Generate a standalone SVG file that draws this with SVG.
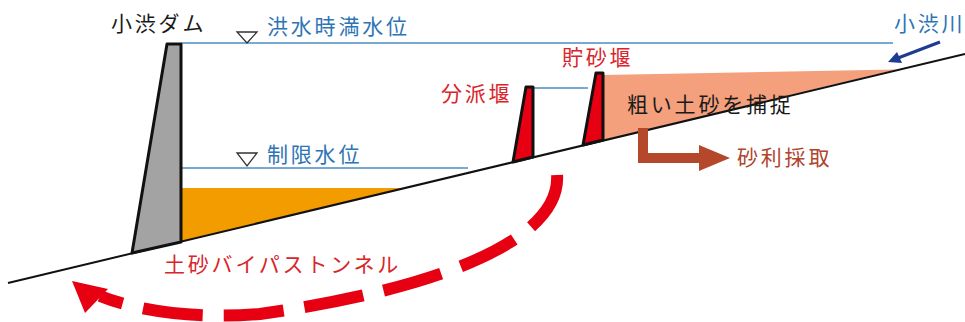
<svg xmlns="http://www.w3.org/2000/svg" width="965" height="322" viewBox="0 0 965 322">
  <defs>
    <style>
      .t { font-family: "Noto Sans CJK JP", "Noto Sans", sans-serif; font-size: 21px; letter-spacing: 2.8px; }
      .blk { fill: #1a1a1a; }
      .blu { fill: #2e74b5; }
      .red { fill: #d9252a; }
      .brn { fill: #b0442c; }
      .wl { stroke: #4a8cc4; stroke-width: 1.6; fill: none; }
      .mark { fill: #ffffff; stroke: #333333; stroke-width: 1.3; }
      .weir { fill: #e60012; stroke: #111111; stroke-width: 3; stroke-linejoin: round; }
    </style>
  </defs>
  <rect width="965" height="322" fill="#ffffff"/>

  <!-- sediment deposits -->
  <g id="reservoir-sediment">
    <polygon points="181,188 402,188 181,242" fill="#f39c00"/>
  </g>
  <g id="coarse-sediment">
    <polygon points="603,75 897,69.5 603,140" fill="#f4a07c"/>
  </g>

  <!-- water levels -->
  <g id="flood-level">
    <line class="wl" x1="181" y1="43" x2="893" y2="43"/>
    <polygon class="mark" points="237,32 257,32 247,43"/>
    <text class="t blu" x="267" y="34">洪水時満水位</text>
  </g>
  <g id="limit-level">
    <line class="wl" x1="181" y1="168" x2="468" y2="168"/>
    <polygon class="mark" points="237,153 257,153 247,166"/>
    <text class="t blu" x="267" y="162">制限水位</text>
  </g>
  <line class="wl" x1="533" y1="88" x2="588" y2="88"/>

  <!-- riverbed -->
  <line x1="8" y1="283" x2="965" y2="54" stroke="#111111" stroke-width="2"/>

  <!-- dam body -->
  <g id="dam">
    <polygon points="167,44 181,44 181,242 132,253" fill="#a3a3a3" stroke="#111111" stroke-width="3" stroke-linejoin="round"/>
    <text class="t blk" x="111" y="31">小渋ダム</text>
  </g>

  <!-- weirs -->
  <g id="diversion-weir">
    <polygon class="weir" points="526,87 533,87 533,157 513,162"/>
    <text class="t red" x="441" y="101">分派堰</text>
  </g>
  <g id="check-weir">
    <polygon class="weir" points="596,73 603,73 603,140 583,145"/>
    <text class="t red" x="562" y="65">貯砂堰</text>
  </g>

  <g id="capture-label">
    <text class="t blk" x="627" y="112">粗い土砂を捕捉</text>
  </g>

  <g id="gravel-label">
    <text class="t brn" x="737" y="165">砂利採取</text>
  </g>

  <g id="river-label">
    <text class="t blu" x="894" y="31">小渋川</text>
  </g>

  <g id="tunnel-label">
    <text class="t red" x="164" y="272">土砂バイパストンネル</text>
  </g>

  <!-- connectors -->
  <g id="connectors">
    <!-- gravel extraction arrow -->
    <path d="M643,128 V158 H700" fill="none" stroke="#b5472b" stroke-width="10"/>
    <polygon points="699,145 730,158 699,171" fill="#b5472b"/>
    <!-- river inflow arrow -->
    <line x1="940" y1="42" x2="898" y2="58" stroke="#1f3a93" stroke-width="3"/>
    <polygon points="888,62 897,52 902,63" fill="#1f3a93"/>
    <!-- sediment bypass tunnel, drawn from the outlet back up to the intake -->
    <path d="M100,296 C140,312 200,319 260,314 C445,288 562,238 557,174" fill="none" stroke="#e60012" stroke-width="12" stroke-dasharray="60 21" stroke-dashoffset="36"/>
    <polygon points="72,281 108,289 85,313" fill="#e60012"/>
  </g>
</svg>
